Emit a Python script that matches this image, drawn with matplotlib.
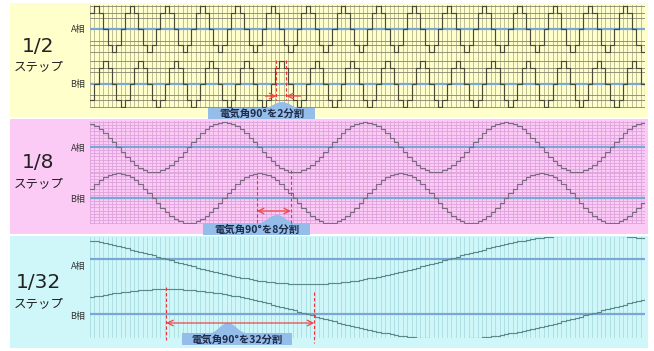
import numpy as np
import matplotlib.pyplot as plt
from matplotlib.patches import Rectangle, Polygon

W, H = 654, 351
plt.rcParams['font.family'] = ['Noto Sans CJK JP', 'DejaVu Sans']

# microstep settings, one entry per panel
step_names = ['1/2', '1/8', '1/32']
step_text = 'ステップ'
phase_names = ['A相', 'B相']
box_texts = ['電気角90°を2分割', '電気角90°を8分割', '電気角90°を32分割']
steps_per_cycle = [8, 32, 128]
b_peak_step = [3, 6, 17]

# coil current levels over a quarter cycle (0 -> peak), read from the steps
quarter_half = [0.0, 0.71, 1.0]
quarter_8 = [0.0, 0.20, 0.38, 0.56, 0.71, 0.83, 0.92, 0.98, 1.0]
quarter_32 = [0.0, 0.05, 0.10, 0.15, 0.20, 0.24, 0.29, 0.34, 0.38, 0.43, 0.47,
              0.51, 0.56, 0.60, 0.63, 0.67, 0.71, 0.74, 0.77, 0.80, 0.83, 0.86,
              0.88, 0.90, 0.92, 0.94, 0.96, 0.97, 0.98, 0.99, 0.995, 0.999, 1.0]
quarters = [quarter_half, quarter_8, quarter_32]

# horizontal grid levels (one side of each phase)
hgrid_1 = [0.5, 0.71, 1.0]
hgrid_8 = [0.125, 0.25, 0.375, 0.5, 0.625, 0.75, 0.875, 1.0]
hgrids = [hgrid_1, hgrid_8, []]

# span of the 90 deg markers, in steps
marker_steps = [(42.3, 44.6), (37.9, 45.6), (17.3, 50.9)]

# layout in pixels
gx0, gx1, step_px = 90, 645, 4.405
n_cols = 126
panel_y = [(3, 117), (119, 234), (236, 348)]
grid_y = [(5, 108), (121, 224), (237, 338)]
centers = [(29, 84), (147, 198), (259, 314)]
amps = [23, 25, 25]
panel_colors = ['#FFFFCC', '#FBCBF6', '#CFF7F9']
vgrid_colors = ['#b4b48c', '#dca3dc', '#a9dce0']
hgrid_colors = ['#858570', '#dca3dc', '#a9dce0']
wave_colors = ['#4a4a3c', '#7f6a84', '#5a8a8c']
box_pos = [(208, 315, 108, 119, 282, 102), (203, 310, 223, 235, 277, 215),
           (182, 292, 333, 345, 228, 323)]
arrow_y = [96, 211, 323]
dash_y = [((60, 100), (60, 100)), ((175, 223), (170, 225)), ((287, 340), (292, 343))]
label_y = [(47, 67, 29, 84), (163, 184, 148, 199), (282, 304, 266, 316)]

fig = plt.figure(figsize=(W / 100, H / 100), dpi=100)

bg = fig.add_axes([0, 0, 1, 1])
bg.set_xlim(0, W)
bg.set_ylim(H, 0)
bg.axis('off')


def cycle_from_quarter(q):
  q = np.array(q)
  n = len(q) - 1
  return np.concatenate([q[n:0:-1], -q[:n], -q[n:0:-1], q[:n]])


for i in range(3):
  y0, y1 = panel_y[i]
  bg.add_patch(Rectangle((10, y0), 638, y1 - y0, color=panel_colors[i], lw=0))
  ly = label_y[i]
  bg.text(38, ly[0], step_names[i], ha='center', va='center', fontsize=14.5,
          family='DejaVu Sans', color='#222222')
  bg.text(39, ly[1], step_text, ha='center', va='center', fontsize=9, color='#222222')
  bg.text(78, ly[2], phase_names[0], ha='center', va='center', fontsize=6.5, color='#333333')
  bg.text(78, ly[3], phase_names[1], ha='center', va='center', fontsize=6.5, color='#333333')

  # waveform axes
  gy0, gy1 = grid_y[i]
  cA, cB = centers[i]
  amp = amps[i]
  mid = (cA + cB) / 2
  off = (cB - cA) / 2 / amp
  ax = fig.add_axes([gx0 / W, 1 - gy1 / H, (gx1 - gx0) / W, (gy1 - gy0) / H])
  ax.patch.set_alpha(0)
  ax.set_xlim(0, n_cols)
  ax.set_ylim((mid - gy1) / amp, (mid - gy0) / amp)
  for s in ax.spines.values():
    s.set_visible(False)
  ax.tick_params(length=0, labelbottom=False, labelleft=False)
  ax.set_xticks(np.arange(0, n_cols + 1))
  lv = np.array(hgrids[i])
  if len(lv):
    lv = np.concatenate([-lv, lv])
    ax.set_yticks(np.concatenate([lv + off, lv - off]))
    ax.grid(axis='y', color=hgrid_colors[i], lw=0.6)
  else:
    ax.set_yticks([])
  ax.grid(axis='x', color=vgrid_colors[i], lw=0.6)
  ax.set_axisbelow(True)

  ax.axhline(off, color='#7aa7d6', lw=1.6)
  ax.axhline(-off, color='#7aa7d6', lw=1.6)

  cyc = cycle_from_quarter(quarters[i])
  N = steps_per_cycle[i]
  k = np.arange(0, n_cols + 1)
  b_vals = cyc[(k - b_peak_step[i]) % N]
  a_vals = cyc[(k - b_peak_step[i] + N // 4) % N]
  ax.plot(k, a_vals + off, drawstyle='steps-post', color=wave_colors[i], lw=0.85)
  ax.plot(k, b_vals - off, drawstyle='steps-post', color=wave_colors[i], lw=0.85)

fg = fig.add_axes([0, 0, 1, 1])
fg.set_xlim(0, W)
fg.set_ylim(H, 0)
fg.axis('off')
fg.patch.set_alpha(0)

for i in range(3):
  m0, m1 = marker_steps[i]
  x0 = gx0 + m0 * step_px
  x1 = gx0 + m1 * step_px
  (d0a, d0b), (d1a, d1b) = dash_y[i]
  fg.plot([x0, x0], [d0a, d0b], color='#e8333a', lw=0.8, ls=(0, (3, 2)))
  fg.plot([x1, x1], [d1a, d1b], color='#e8333a', lw=0.8, ls=(0, (3, 2)))
  ay = arrow_y[i]
  if i == 0:
    fg.annotate('', xy=(x0, ay), xytext=(x0 - 11, ay),
                arrowprops=dict(arrowstyle='->', color='#f04545', lw=0.9, shrinkA=0, shrinkB=0))
    fg.annotate('', xy=(x1, ay), xytext=(x1 + 14, ay),
                arrowprops=dict(arrowstyle='->', color='#f04545', lw=0.9, shrinkA=0, shrinkB=0))
  else:
    fg.annotate('', xy=(x0, ay), xytext=(x1, ay),
                arrowprops=dict(arrowstyle='<->', color='#f04545', lw=0.9, shrinkA=0, shrinkB=0))
  bx0, bx1, by0, by1, px, py = box_pos[i]
  fg.add_patch(Rectangle((bx0, by0), bx1 - bx0, by1 - by0, color='#95bdea', lw=0))
  t = np.linspace(-1, 1, 30)
  bump_x = px + 18 * t
  bump_y = by0 - (by0 - py) * np.cos(t * np.pi / 2) ** 2
  fg.add_patch(Polygon(np.column_stack([bump_x, bump_y]), closed=True,
                       color='#95bdea', lw=0))
  fg.text((bx0 + bx1) / 2, (by0 + by1) / 2 + 0.5, box_texts[i], ha='center', va='center',
          fontsize=7.5, fontweight='bold', color='#1e2b48')

fig.savefig('out.png', dpi=100)
